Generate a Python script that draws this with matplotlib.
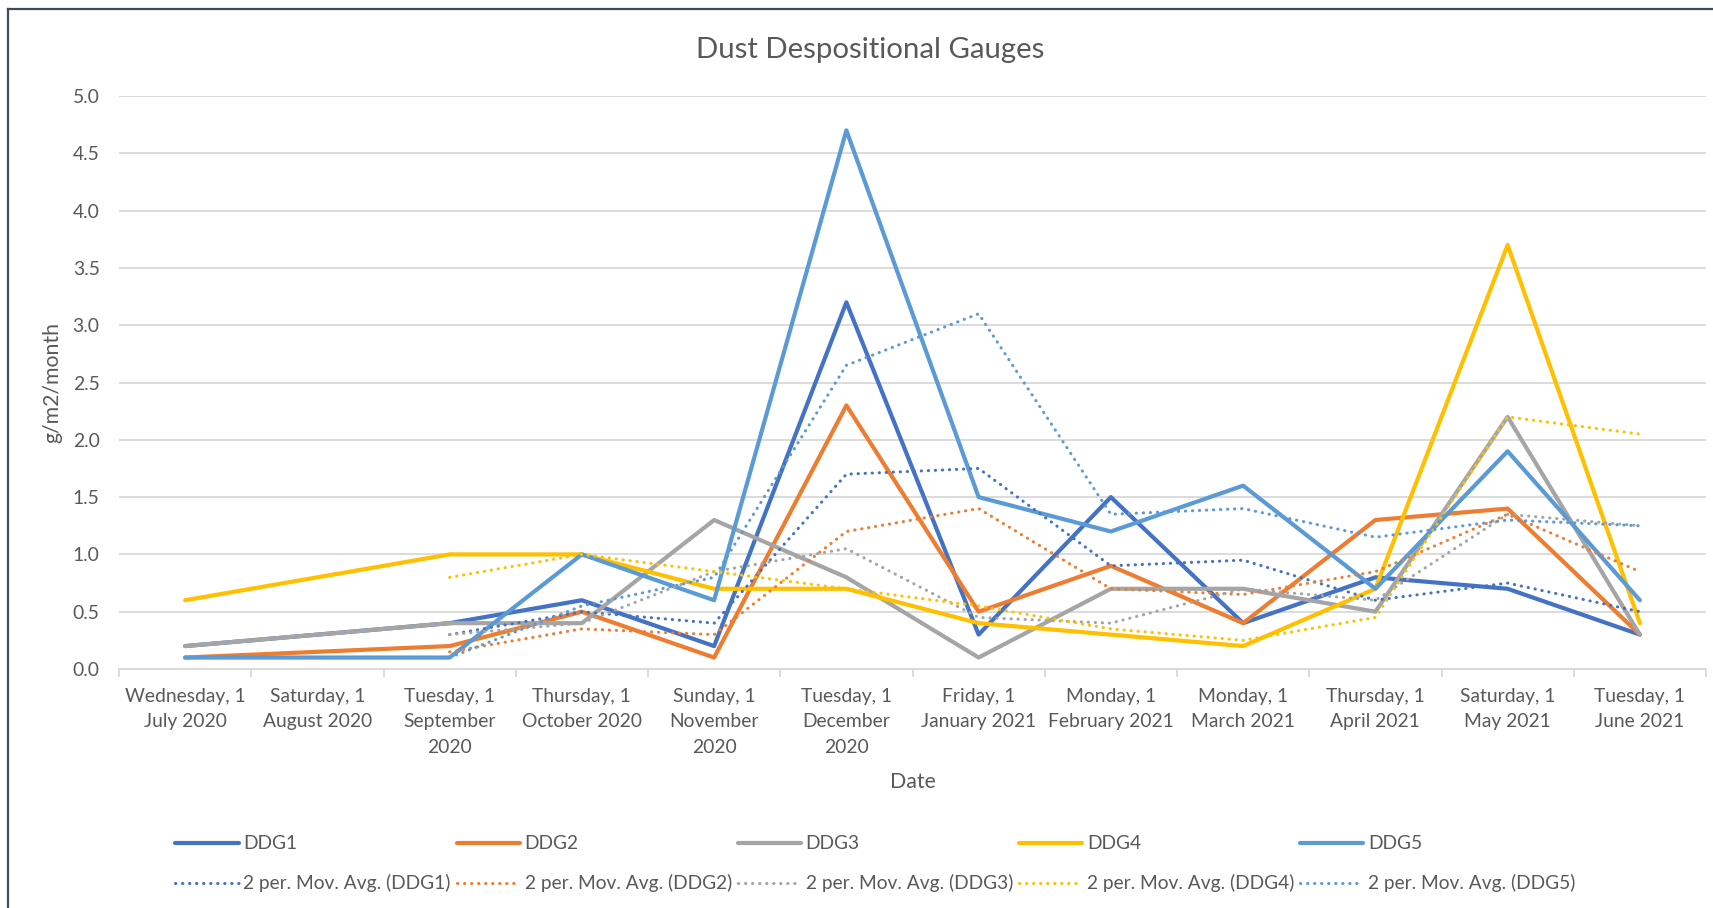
import numpy as np
import pandas as pd
import matplotlib
matplotlib.use("Agg")
import matplotlib.pyplot as plt
from matplotlib.lines import Line2D

plt.rcParams['font.family'] = ['Lato', 'DejaVu Sans']

# category labels (monthly gauge readings, August 2020 has no reading)
dates = ["Wednesday, 1\nJuly 2020", "Saturday, 1\nAugust 2020", "Tuesday, 1\nSeptember\n2020",
         "Thursday, 1\nOctober 2020", "Sunday, 1\nNovember\n2020", "Tuesday, 1\nDecember\n2020",
         "Friday, 1\nJanuary 2021", "Monday, 1\nFebruary 2021", "Monday, 1\nMarch 2021",
         "Thursday, 1\nApril 2021", "Saturday, 1\nMay 2021", "Tuesday, 1\nJune 2021"]

ddg1 = [0.2, None, 0.4, 0.6, 0.2, 3.2, 0.3, 1.5, 0.4, 0.8, 0.7, 0.3]
ddg2 = [0.1, None, 0.2, 0.5, 0.1, 2.3, 0.5, 0.9, 0.4, 1.3, 1.4, 0.3]
ddg3 = [0.2, None, 0.4, 0.4, 1.3, 0.8, 0.1, 0.7, 0.7, 0.5, 2.2, 0.3]
ddg4 = [0.6, None, 1.0, 1.0, 0.7, 0.7, 0.4, 0.3, 0.2, 0.7, 3.7, 0.4]
ddg5 = [0.1, None, 0.1, 1.0, 0.6, 4.7, 1.5, 1.2, 1.6, 0.7, 1.9, 0.6]

names = ["DDG1", "DDG2", "DDG3", "DDG4", "DDG5"]
colors = ["#4472C4", "#ED7D31", "#A5A5A5", "#FFC000", "#5B9BD5"]
series = [ddg1, ddg2, ddg3, ddg4, ddg5]

text_col = "#595959"
grid_col = "#D9D9D9"

fig = plt.figure(figsize=(17.13, 9.08), dpi=100)
ax = fig.add_axes([119/1713, 1-669/908, (1706-119)/1713, (669-96)/908])

x = np.arange(len(dates))
solid_handles = []
ma_handles = []
for name, col, vals in zip(names, colors, series):
    s = pd.Series(vals, index=x, dtype=float).dropna()
    ln, = ax.plot(s.index, s.values, color=col, lw=3.0, solid_capstyle='round',
                  solid_joinstyle='round', label=name, zorder=3)
    solid_handles.append(ln)
for name, col, vals in zip(names, colors, series):
    s = pd.Series(vals, index=x, dtype=float).dropna()
    ma = s.rolling(2).mean().dropna()  # Excel 2-period moving average trendline
    ln, = ax.plot(ma.index, ma.values, color=col, lw=2.2, linestyle=(0, (0.1, 2.2)),
                  dash_capstyle='round', label="2 per. Mov. Avg. (%s)" % name, zorder=4)
    ma_handles.append(ln)

ax.set_xlim(-0.5, len(dates) - 0.5)
ax.set_ylim(0, 5)
ax.set_yticks(np.arange(0, 5.01, 0.5))
ax.set_yticklabels(["%.1f" % v for v in np.arange(0, 5.01, 0.5)])
ax.set_xticks(x)
ax.set_xticklabels(dates, linespacing=1.6)
ax.set_xticks(np.arange(-0.5, len(dates), 1), minor=True)
ax.tick_params(axis='x', which='major', length=0, pad=13.5, labelsize=13.9, labelcolor=text_col)
ax.tick_params(axis='x', which='minor', length=6, width=1.3, color=grid_col, direction='out')
ax.tick_params(axis='y', length=0, pad=14, labelsize=13.9, labelcolor=text_col)

ax.grid(axis='y', color=grid_col, lw=1.3)
ax.set_axisbelow(True)
for sp in ['top', 'right', 'left']:
    ax.spines[sp].set_visible(False)
ax.spines['bottom'].set_color(grid_col)
ax.spines['bottom'].set_linewidth(1.3)

ax.set_xlabel("Date", fontsize=15.3, color=text_col, labelpad=12)
ax.set_ylabel("g/m2/month", fontsize=15.3, color=text_col, labelpad=7)
fig.text(0.508, 1-50/908, "Dust Despositional Gauges", ha='center', va='center',
         fontsize=21.2, color=text_col)

handles = []
for h1, h2 in zip(solid_handles, ma_handles):
    handles += [h1, h2]
fig.legend(handles=handles, labels=[h.get_label() for h in handles], ncol=5,
           loc='upper center', bbox_to_anchor=(0.511, 1-818/908), frameon=False,
           fontsize=13.8, handlelength=3.3, handletextpad=0.25, columnspacing=0.3,
           labelspacing=1.15, labelcolor=text_col)

# chart border (cropped on right and bottom)
fig.add_artist(Line2D([8/1713, 8/1713], [0, 1-9/908], color="#404B58", lw=1.6))
fig.add_artist(Line2D([8/1713, 1], [1-9/908, 1-9/908], color="#404B58", lw=1.6))

fig.savefig("out.png", dpi=100)
